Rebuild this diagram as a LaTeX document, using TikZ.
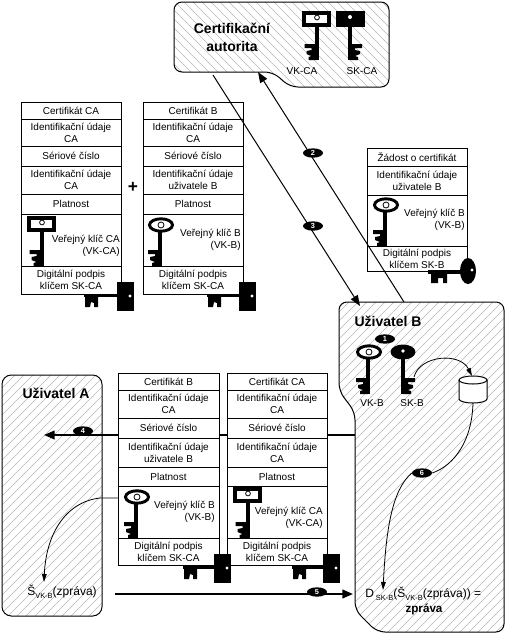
\documentclass[tikz,border=0pt]{standalone}
\usepackage{fontspec}
\setmainfont{Liberation Sans}
\usetikzlibrary{arrows.meta,shapes.geometric}
\newcommand{\fs}{\fontsize{7.5}{9}\selectfont}
\newcommand{\fb}{\fontsize{10.5}{13}\selectfont\bfseries}
\newcommand{\subt}[1]{\raisebox{-2pt}{\fontsize{5.6}{6}\selectfont #1}}
\tikzset{
  lbl/.style={inner sep=0pt,align=center,font=\fs},
  lblr/.style={inner sep=0pt,align=right,anchor=east,font=\fs},
  head/.style={inner sep=0pt,align=center,font=\fb},
  bigl/.style={inner sep=0pt,anchor=west,font=\fontsize{9}{10}\selectfont},
  badge/.style={ellipse,fill=black,text=white,inner sep=0pt,minimum width=15pt,minimum height=7pt,font=\fontsize{5.5}{6}\selectfont\bfseries},
  conn/.style={line width=.75pt,-{Triangle[length=8pt,width=6pt]}},
  fine/.style={line width=.6pt,-{Triangle[length=6pt,width=3.5pt]}},
  heavy/.style={line width=1.5pt,-{Triangle[length=8pt,width=6.5pt]}},
  rowbox/.style={draw=black,line width=.75pt,fill=white},
  hatchline/.style={draw=black!28,line width=.4pt}
}
% hatched region: #1 path, #2 = 1 for / and -1 for \
\newcommand{\hatched}[2]{%
  \begin{scope}
    \clip #1;
    \foreach \k in {-700,-691,...,1200}{
      \ifnum#2=1
        \draw[hatchline] (\k,640) -- (\k+640,0);
      \else
        \draw[hatchline] (\k,0) -- (\k+640,640);
      \fi
    }
  \end{scope}
  \draw[line width=.75pt] #1;
}
\newcommand{\certrow}[6]{%
  \draw[rowbox] (#2,#4) rectangle (#3,#5);
  \node[lbl] (#1) at ({(#2+#3)/2},{(#4+#5)/2}) {#6};
}
% vertical blade: #1 cx, #2 ybottom, #3 ytop, #4 direction of teeth (-1 left, 1 right)
\newcommand{\blade}[4]{%
  \fill[black] ({#1-2},#3) rectangle ({#1+2},#2);
  \begin{scope}[shift={(#1,#2)},xscale=#4]
    \fill[black] (0,0) -- (8,0) -- (8,-3) -- (5,-4) -- (10,-6) -- (10,-9) -- (5,-10) -- (5,-12) -- (12,-12) -- (12,-16) -- (0,-16) -- cycle;
  \end{scope}
}
\newcommand{\rectkey}[3]{% public CA key: #1 left, #2 top, #3 ybottom
  \draw[line width=3pt,fill=white] ({#1+2},{#2+2}) rectangle ({#1+27},{#2+14});
  \draw[line width=.6pt] ({#1+15},{#2+6.5}) circle (2.4);
  \blade{#1+14.5}{#3}{#2+16}{-1}
}
\newcommand{\ovalkey}[3]{% public user key: #1 cx, #2 cy, #3 ybottom
  \draw[line width=2.2pt,fill=white] (#1,#2) ellipse (11.5 and 6.2);
  \draw[line width=.6pt] (#1,#2) circle (3);
  \blade{#1-1}{#3}{#2+6}{-1}
}
% horizontal signature key with square head: #1 head left, #2 cy, #3 shaft left
\newcommand{\hkey}[3]{%
  \fill[black] (#1,{#2-13}) rectangle ({#1+17},{#2+16});
  \fill[white] ({#1+13},{#2+1}) circle (1.6);
  \fill[black] (#3,{#2-1.5}) rectangle (#1,{#2+2});
  \begin{scope}[shift={(#3,#2)}]
    \fill[black] (1,0) -- (14,0) -- (14,12) -- (10,12) -- (10,8) -- (7,7) -- (6,12) -- (1,12) -- cycle;
  \end{scope}
}
\begin{document}
\begin{tikzpicture}[x=.75pt,y=-.75pt]
\useasboundingbox (0,0) rectangle (505,633);

% hatched regions
\hatched{[rounded corners=6pt] (174,2) -- (389,2) -- (389,87) -- (290,87) -- (273,72) -- (174,72) -- cycle}{-1}
\hatched{[rounded corners=7pt] (2,375) -- (102,375) -- (102,616) -- (2,616) -- cycle}{1}
\hatched{[rounded corners=6pt] (339,302) -- (504,302) -- (504,632) -- (377,632) -- (355,610) -- (355,412) -- (339,391) -- cycle}{1}

% named anchors
\coordinate (caIn) at (258,72);
\coordinate (caOut) at (213,75);
\coordinate (ubIn) at (360,306);
\coordinate (ubOut) at (404,302);
\coordinate (ubLeft) at (355,435);
\coordinate (uaIn) at (44,435);
\coordinate (sendA) at (115,594);
\coordinate (sendB) at (353,594);
\coordinate (crtKey) at (118,498);
\coordinate (sigA) at (44,582);
\coordinate (skb) at (414,377);
\coordinate (decr) at (383,590);

% connector 4 runs behind the certificates
\draw[heavy] (ubLeft) -- (uaIn);
\node[badge,minimum width=15pt] (b4) at (83,431) {4};

% certificate CA (top left)
\certrow{a1}{21}{121}{102}{119}{Certifikát CA}
\certrow{a2}{21}{121}{119}{146}{Identifikační údaje\\CA}
\certrow{a3}{21}{121}{146}{166}{Sériové číslo}
\certrow{a4}{21}{121}{166}{194}{Identifikační údaje\\CA}
\certrow{a5}{21}{121}{194}{214}{Platnost}
\certrow{a6}{21}{121}{214}{266}{}
\certrow{a7}{21}{121}{266}{294}{Digitální podpis\\klíčem SK-CA}
\rectkey{27}{216}{266}
\node[lblr] (a6t) at (120,246) {Veřejný klíč CA\\(VK-CA)};
\hkey{117}{295}{84}
\node[font=\fontsize{13}{13}\selectfont\bfseries,inner sep=0pt] (plus) at (133,187) {+};

% certificate B (top)
\certrow{c1}{143}{243}{102}{119}{Certifikát B}
\certrow{c2}{143}{243}{119}{146}{Identifikační údaje\\CA}
\certrow{c3}{143}{243}{146}{166}{Sériové číslo}
\certrow{c4}{143}{243}{166}{194}{Identifikační údaje\\uživatele B}
\certrow{c5}{143}{243}{194}{214}{Platnost}
\certrow{c6}{143}{243}{214}{266}{}
\certrow{c7}{143}{243}{266}{294}{Digitální podpis\\klíčem SK-CA}
\ovalkey{161}{225}{266}
\node[lblr] (c6t) at (241,239.5) {Veřejný klíč B\\(VK-B)};
\hkey{239}{295}{207}

% request
\certrow{r1}{367}{467}{148}{166}{Žádost o certifikát}
\certrow{r2}{367}{467}{166}{195}{Identifikační údaje\\uživatele B}
\certrow{r3}{367}{467}{195}{246}{}
\certrow{r4}{367}{467}{246}{271}{Digitální podpis\\klíčem SK-B}
\ovalkey{386}{205}{246}
\node[lblr] (r3t) at (465,219.5) {Veřejný klíč B\\(VK-B)};
\fill[black] (428,270) rectangle (462,273.5);
\fill[black] (431,271) -- (447,271) -- (447,283) -- (443,283) -- (443,278) -- (438,278) -- (438,283) -- (431,283) -- cycle;
\fill[black] (468,271) ellipse (8 and 13);
\fill[white] (472,270) circle (1.7);

% certificate B (bottom)
\certrow{d1}{118}{219}{373}{390}{Certifikát B}
\certrow{d2}{118}{219}{390}{418}{Identifikační údaje\\CA}
\certrow{d3}{118}{219}{418}{438}{Sériové číslo}
\certrow{d4}{118}{219}{438}{467}{Identifikační údaje\\uživatele B}
\certrow{d5}{118}{219}{467}{486}{Platnost}
\certrow{d6}{118}{219}{486}{538}{}
\certrow{d7}{118}{219}{538}{565}{Digitální podpis\\klíčem SK-CA}
\ovalkey{137}{497}{538}
\node[lblr] (d6t) at (215,512) {Veřejný klíč B\\(VK-B)};

% certificate CA (bottom)
\certrow{e1}{227}{327}{373}{390}{Certifikát CA}
\certrow{e2}{227}{327}{390}{418}{Identifikační údaje\\CA}
\certrow{e3}{227}{327}{418}{438}{Sériové číslo}
\certrow{e4}{227}{327}{438}{467}{Identifikační údaje\\CA}
\certrow{e5}{227}{327}{467}{486}{Platnost}
\certrow{e6}{227}{327}{486}{538}{}
\certrow{e7}{227}{327}{538}{565}{Digitální podpis\\klíčem SK-CA}
\rectkey{233}{487}{538}
\node[lblr] (e6t) at (323,518) {Veřejný klíč CA\\(VK-CA)};
\hkey{214}{567}{183}
\hkey{323}{567}{292}

% Certifikační autorita
\node[head] (ca) at (232,37.5) {Certifikační\\autorita};
\rectkey{302}{11}{60}
\fill[black] (336,11) rectangle (365,27);
\fill[white] (350,17) circle (2);
\blade{350}{60}{27}{1}
\node[lbl] (vkca) at (302,71) {VK-CA};
\node[lbl] (skca) at (362,71) {SK-CA};

% Uživatel B
\node[head] (ub) at (388,321) {Uživatel B};
\node[badge] (b1) at (385,339) {1};
\ovalkey{369}{352}{394}
\fill[black] (403,352) ellipse (12.5 and 7.5);
\fill[white] (403,351) circle (1.8);
\blade{403}{394}{358}{1}
\node[lbl] (vkb) at (372,403) {VK-B};
\node[lbl] (skbl) at (412,403) {SK-B};
% disk
\draw[line width=.75pt,fill=white] (459,380) -- (459,399) arc[start angle=180,end angle=0,x radius=14,y radius=4] -- (487,380) arc[start angle=0,end angle=-180,x radius=14,y radius=4] -- cycle;
\draw[line width=.75pt] (459,380) arc[start angle=180,end angle=0,x radius=14,y radius=4];
\coordinate (dTop) at (472,376);
\coordinate (dBot) at (473,403);
\node[bigl] (dec) at (365,594) {D\,\subt{SK-B}(Š\subt{VK-B}(zpráva)) =};
\node[inner sep=0pt,font=\fontsize{8.75}{10}\selectfont\bfseries] (msg) at (424,609) {zpráva};

% Uživatel A
\node[head] (ua) at (56,393) {Uživatel A};
\node[bigl] (sig) at (27,592) {Š\subt{VK-B}(zpráva)};

% connectors
\draw[conn] (ubOut) -- (caIn);
\draw[conn] (caOut) -- (ubIn);
\node[badge] (b2) at (313,153) {2};
\node[badge] (b3) at (313,226) {3};
\draw[heavy] (sendA) -- (sendB);
\node[badge] (b5) at (317,592) {5};
\draw[fine] (crtKey) -- (100,498) .. controls (65,502) and (46,535) .. (sigA);
\draw[fine] (skb) .. controls (420,355) and (460,352) .. (dTop);
\node[badge] (b6) at (422,473) {6};
\draw[line width=.6pt] (dBot) .. controls (472,440) and (455,465) .. (b6.east);
\draw[fine] (b6.west) .. controls (392,490) and (386,530) .. (decr);
\end{tikzpicture}
\end{document}
